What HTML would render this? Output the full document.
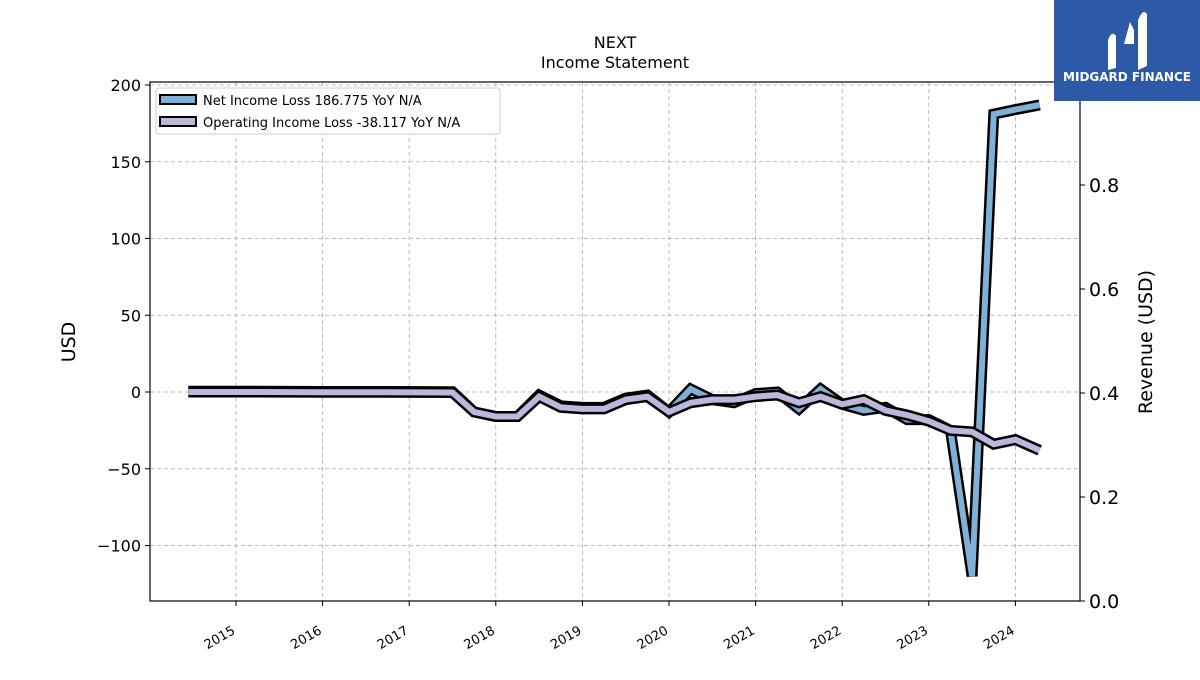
<!DOCTYPE html>
<html><head><meta charset="utf-8"><style>
body{margin:0;background:#fff;font-family:"Liberation Sans","DejaVu Sans",sans-serif}
svg text{font-family:"DejaVu Sans","Liberation Sans",sans-serif}
</style></head><body>
<svg id="c" width="1200" height="675" xmlns="http://www.w3.org/2000/svg">
<rect width="1200" height="675" fill="#fff"/>
<text x="615" y="48" text-anchor="middle" font-size="16">NEXT</text>
<text x="615" y="68" text-anchor="middle" font-size="16">Income Statement</text>
<g id="grid"></g><g id="series"></g><g id="axes"></g>
<text transform="translate(75,342) rotate(-90)" text-anchor="middle" font-size="19">USD</text>
<text transform="translate(1152,342) rotate(-90)" text-anchor="middle" font-size="19">Revenue (USD)</text>
<g>
<rect x="156" y="88" width="344" height="46" fill="#fff" stroke="#ccc" rx="3"/>
<rect x="160" y="95" width="36" height="9" fill="#7fb0d5" stroke="#000" stroke-width="2"/>
<text x="203" y="105" font-size="13">Net Income Loss  186.775 YoY N/A</text>
<rect x="160" y="117" width="36" height="9" fill="#bcb8dc" stroke="#000" stroke-width="2"/>
<text x="203" y="127" font-size="13">Operating Income Loss  -38.117 YoY N/A</text>
</g>
<g>
<rect x="1054" y="0" width="146" height="101" fill="#2c5aa9"/>
<path d="M1108 70 L1108 40 Q1112 30 1116 36 L1116 68 Z M1124 44 L1130 22 L1134 30 L1134 44 Z M1138 70 L1138 20 Q1143 8 1147 14 L1147 66 Z" fill="#fff"/>
<text x="1127" y="81" text-anchor="middle" font-size="12" font-weight="bold" fill="#fff">MIDGARD FINANCE</text>
</g>
</svg>
<script>
const dates=[2014.45,2015.25,2016.0,2016.75,2017.5,2017.75,2018.0,2018.25,2018.5,2018.75,2019.0,2019.25,2019.5,2019.75,2020.0,2020.25,2020.5,2020.75,2021.0,2021.25,2021.5,2021.75,2022.0,2022.25,2022.5,2022.75,2023.0,2023.25,2023.5,2023.75,2024.0,2024.28];
const netIncome=[0.5,0.5,0.3,0.3,0.2,-13,-16,-16,-2,-9,-10,-10,-4,-2,-13,2,-5,-7,-1,0,-11,2,-8,-12,-10,-18,-18,-25,-120,181,184,187];
const opIncome=[0,0,-0.2,-0.2,-0.3,-13,-16,-16,-3,-10,-11,-11,-5,-3,-13,-7,-5,-5,-3,-2,-7,-3,-8,-5,-12,-15,-19,-25,-26,-34,-31,-38];
const leftTicks=[-100,-50,0,50,100,150,200];
const rightTicks=[0.0,0.2,0.4,0.6,0.8];
const yearTicks=[2015,2016,2017,2018,2019,2020,2021,2022,2023,2024];
const L=150,R=1080,T=82,B=601;
const xs=d=>236+(d-2015)*86.6;
const ys=v=>392-v*1.535;
const yr=v=>601-v*520;
const NS="http://www.w3.org/2000/svg";
function mk(p,t,a){const e=document.createElementNS(NS,t);for(const k in a)e.setAttribute(k,a[k]);p.appendChild(e);return e;}
const grid=document.getElementById('grid'),axes=document.getElementById('axes'),ser=document.getElementById('series');
leftTicks.forEach(v=>{const y=ys(v);
const g=mk(grid,'line',{x1:L,x2:R,y1:y,y2:y,stroke:'#aaa','stroke-dasharray':'4,3','stroke-width':0.8});


mk(axes,'line',{x1:L-5,x2:L,y1:y,y2:y,stroke:'#000'});
const t=mk(axes,'text',{x:L-9,y:y+6,'text-anchor':'end','font-size':16});t.textContent=v<0?'\u2212'+(-v):v;

});
rightTicks.forEach(v=>{const y=yr(v);
mk(axes,'line',{x1:R,x2:R+5,y1:y,y2:y,stroke:'#000'});
const t=mk(axes,'text',{x:R+9,y:y+7,'font-size':19});t.textContent=v.toFixed(1);

});
yearTicks.forEach(d=>{const x=xs(d);
const g=mk(grid,'line',{x1:x,x2:x,y1:T,y2:B,stroke:'#aaa','stroke-dasharray':'4,3','stroke-width':0.8});


mk(axes,'line',{x1:x,x2:x,y1:B,y2:B+5,stroke:'#000'});
const t=mk(axes,'text',{x:x,y:B+32,'text-anchor':'end','font-size':13,transform:`rotate(-30 ${x} ${B+32})`});t.textContent=d;

});
mk(axes,'rect',{x:L,y:T,width:R-L,height:B-T,fill:'none',stroke:'#000','stroke-width':1.2});
function draw(vals,col,name){const pts=dates.map((d,i)=>xs(d)+','+ys(vals[i])).join(' ');
const o=mk(ser,'polyline',{points:pts,fill:'none',stroke:'#000','stroke-width':11,'stroke-linejoin':'miter','stroke-miterlimit':3});


const l=mk(ser,'polyline',{points:pts,fill:'none',stroke:col,'stroke-width':6,'stroke-linejoin':'miter','stroke-miterlimit':3});

}
draw(netIncome,'#7fb0d5','net-income-line');
draw(opIncome,'#bcb8dc','operating-income-line');
</script>
</body></html>
